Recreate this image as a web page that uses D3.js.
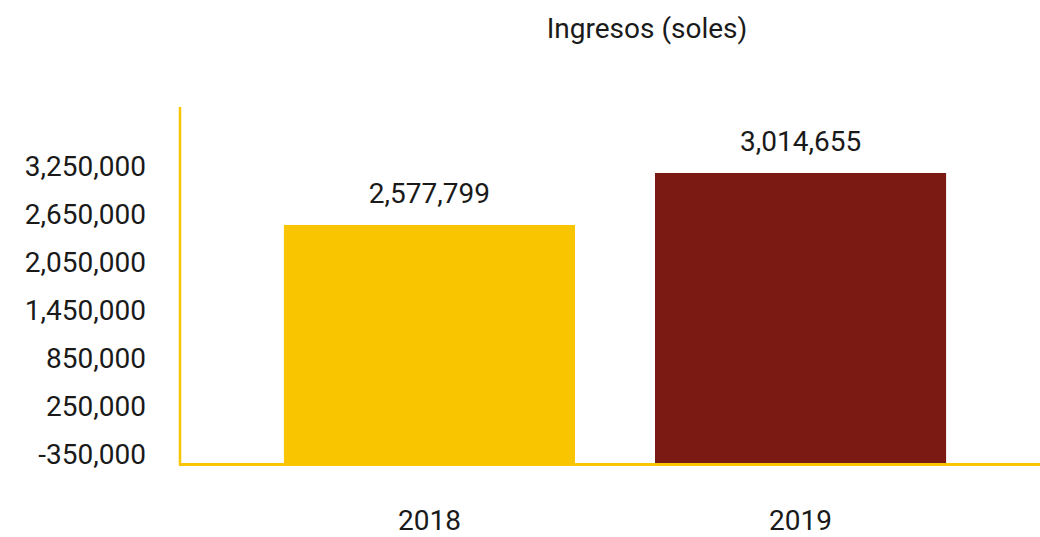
<!DOCTYPE html>
<html>
<head>
<meta charset="utf-8">
<script src="https://cdn.jsdelivr.net/npm/d3@7"></script>
<style>
  body { margin: 0; background: #fff; }
  text { font-family: Roboto, "Open Sans", sans-serif; fill: #1a1a1a; }
</style>
</head>
<body>
<div id="chart"></div>
<script>
// data
const years = ["2018", "2019"];
const ingresos = [2577799, 3014655];
const barColors = ["#F9C400", "#7B1A13"];
const tickLabels = [-350000, 250000, 850000, 1450000, 2050000, 2650000, 3250000];

const width = 1040, height = 537;
// plain hyphen for negatives, like the original
const fmt = d3.formatLocale({ decimal: ".", thousands: ",", grouping: [3], currency: ["", ""], minus: "-" }).format(",");

const svg = d3.select("#chart")
  .append("svg")
  .attr("width", width)
  .attr("height", height);

// title
svg.append("text")
  .attr("x", 647)
  .attr("y", 38)
  .attr("text-anchor", "middle")
  .style("font-size", "28px")
  .text("Ingresos (soles)");

// x scale
const x = d3.scaleBand()
  .domain(years)
  .range([180, 1050])
  .paddingInner(0.2156)
  .paddingOuter(0.28);

// bar scale (axis does not start at zero in the original)
const y = d3.scaleLinear()
  .domain([570000, 3600000])
  .range([464, 103.3]);

// tick label scale (labels are spaced on their own in the original)
const yTicks = d3.scaleLinear()
  .domain([-350000, 3250000])
  .range([455, 167]);

// bars
svg.selectAll("rect.bar")
  .data(ingresos)
  .enter()
  .append("rect")
  .attr("class", "bar")
  .attr("x", (d, i) => x(years[i]))
  .attr("width", x.bandwidth())
  .attr("y", d => y(d))
  .attr("height", d => y.range()[0] - y(d))
  .attr("fill", (d, i) => barColors[i]);

// value labels
svg.selectAll("text.val")
  .data(ingresos)
  .enter()
  .append("text")
  .attr("class", "val")
  .attr("x", (d, i) => x(years[i]) + x.bandwidth() / 2)
  .attr("y", d => y(d) - 22)
  .attr("text-anchor", "middle")
  .style("font-size", "28px")
  .text(d => fmt(d));

// y tick labels
const yAxis = svg.append("g")
  .attr("transform", "translate(150,0)")
  .call(d3.axisLeft(yTicks).tickValues(tickLabels).tickFormat(fmt).tickSize(0).tickPadding(4));
yAxis.select(".domain").remove();
yAxis.selectAll("text")
  .style("font-size", "28px")
  .attr("fill", "#1a1a1a");

// category labels
svg.selectAll("text.cat")
  .data(years)
  .enter()
  .append("text")
  .attr("class", "cat")
  .attr("x", d => x(d) + x.bandwidth() / 2)
  .attr("y", 530)
  .attr("text-anchor", "middle")
  .style("font-size", "28px")
  .text(d => d);

// axis lines
svg.append("line")
  .attr("x1", 180).attr("x2", 180)
  .attr("y1", 107).attr("y2", 465)
  .attr("stroke", "#F9C400")
  .attr("stroke-width", 2.5);

svg.append("line")
  .attr("x1", 179).attr("x2", 1040)
  .attr("y1", 464.5).attr("y2", 464.5)
  .attr("stroke", "#F9C400")
  .attr("stroke-width", 3);
</script>
</body>
</html>
